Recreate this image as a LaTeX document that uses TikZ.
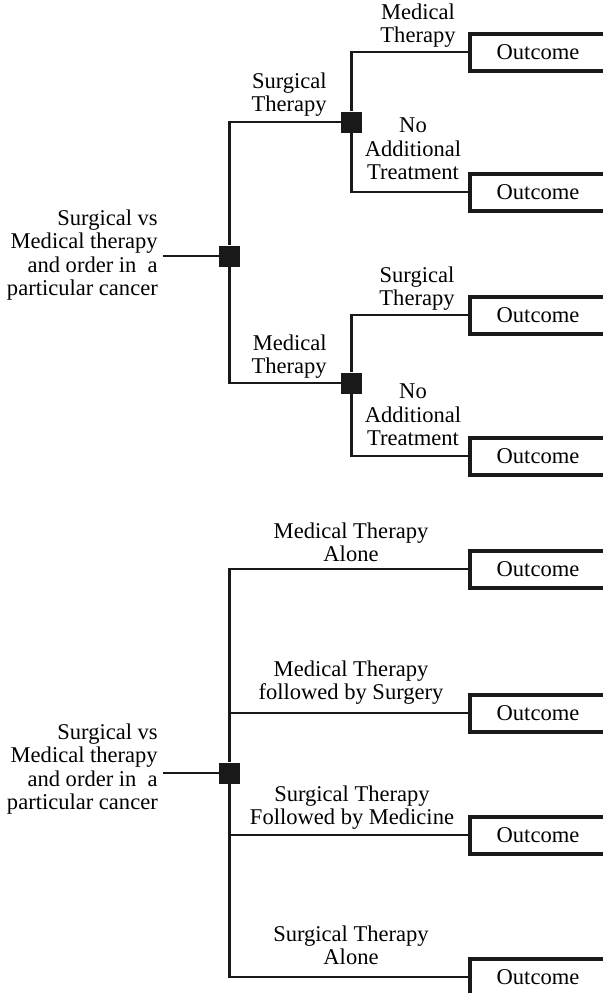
\documentclass[tikz,border=0pt]{standalone}
\usepackage{fontspec}
\setmainfont{Liberation Serif}
\usetikzlibrary{backgrounds}

\tikzset{
  x=0.75pt, y=-0.75pt,
  txt/.style={font=\fontsize{16.9}{17.6}\selectfont},
  decision/.style={rectangle, fill=black!90, draw=none, minimum size=15.75pt, inner sep=0pt},
  outcome/.style={txt, rectangle, draw=black!90, line width=3pt,
                  minimum width=102pt, minimum height=27.75pt, inner sep=0pt},
  lbl/.style={txt, inner sep=0pt, text depth=0pt, align=center, anchor=south},
  lblr/.style={txt, inner sep=0pt, text depth=0pt, align=right, anchor=south east},
  branch/.style={draw=black!90, line width=2pt},
}

\begin{document}
\begin{tikzpicture}
\useasboundingbox (0,0) rectangle (603,993);
\clip (0,0) rectangle (603,993);

% ---------- first tree: choice of first therapy, then optional second ----------
\node[lblr] (q1) at (158,296) {Surgical vs\\Medical therapy\\and order in\ \ a\\particular cancer};
\coordinate (q1in) at (163,256);
\node[decision] (d0) at (229.5,256) {};
\node[decision] (d1) at (351.5,122) {};
\node[decision] (d2) at (351.5,383) {};

\node[outcome] (o1) at (538,52)  {Outcome};
\node[outcome] (o2) at (538,192) {Outcome};
\node[outcome] (o3) at (538,315) {Outcome};
\node[outcome] (o4) at (538,456) {Outcome};

\node[lblr] (a1) at (327,112) {Surgical\\Therapy};
\node[lblr] (a2) at (327,374) {Medical\\Therapy};
\node[lbl]  (b1) at (418,43)  {Medical\\Therapy};
\node[lbl]  (b2) at (413,180) {No\\Additional\\Treatment};
\node[lbl]  (b3) at (417,306) {Surgical\\Therapy};
\node[lbl]  (b4) at (413,446) {No\\Additional\\Treatment};

% ---------- second tree: four fixed treatment sequences ----------
\node[lblr] (q2) at (158,810) {Surgical vs\\Medical therapy\\and order in\ \ a\\particular cancer};
\coordinate (q2in) at (163,773);
\node[decision] (e0) at (229.5,773) {};

\node[outcome] (p1) at (538,569) {Outcome};
\node[outcome] (p2) at (538,713) {Outcome};
\node[outcome] (p3) at (538,835) {Outcome};
\node[outcome] (p4) at (538,977) {Outcome};

\node[lbl] (c1) at (351,562) {Medical Therapy\\Alone};
\node[lbl] (c2) at (351,700) {Medical Therapy\\followed by Surgery};
\node[lbl] (c3) at (352,825) {Surgical Therapy\\Followed by Medicine};
\node[lbl] (c4) at (351,965) {Surgical Therapy\\Alone};

% ---------- branches, kept under the decision squares ----------
\begin{pgfonlayer}{background}
  \draw[branch] (q1in) -- (d0);
  \draw[branch] (d0) |- (d1);
  \draw[branch] (d0) |- (d2);
  \draw[branch] (d1) |- (o1.west);
  \draw[branch] (d1) |- (o2.west);
  \draw[branch] (d2) |- (o3.west);
  \draw[branch] (d2) |- (o4.west);

  \draw[branch] (q2in) -- (e0);
  \draw[branch] (e0) |- (p1.west);
  \draw[branch] (e0) |- (p2.west);
  \draw[branch] (e0) |- (p3.west);
  \draw[branch] (e0) |- (p4.west);
\end{pgfonlayer}
\end{tikzpicture}
\end{document}
